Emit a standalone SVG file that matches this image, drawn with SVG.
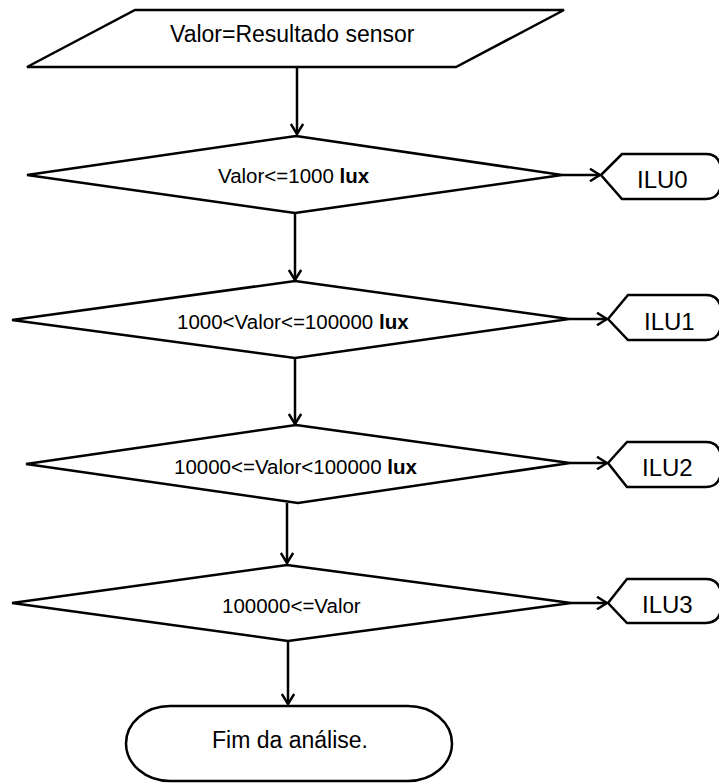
<svg xmlns="http://www.w3.org/2000/svg" width="719" height="783" viewBox="0 0 719 783">
<style>
.shape{fill:#fff;stroke:#000;stroke-width:2.5;stroke-linejoin:miter}
.conn{fill:none;stroke:#000;stroke-width:2.5}
.t{font-family:"Liberation Sans",Arial,sans-serif;fill:#000}
.d{font-size:20.5px}
.ilu{font-size:24px}
</style>
<defs>
<marker id="arr" viewBox="0 0 12 14" refX="11" refY="7" markerWidth="12" markerHeight="14" markerUnits="userSpaceOnUse" orient="auto">
<path d="M1,0.8 L11,7 L1,13.2" fill="none" stroke="#000" stroke-width="2.5"/>
</marker>
</defs>
<rect width="719" height="783" fill="#fff"/>
<g id="connectors">
<line class="conn" x1="297" y1="67" x2="297" y2="134" marker-end="url(#arr)"/>
<line class="conn" x1="295" y1="213" x2="295" y2="280" marker-end="url(#arr)"/>
<line class="conn" x1="295" y1="358" x2="295" y2="424" marker-end="url(#arr)"/>
<line class="conn" x1="287" y1="503" x2="287" y2="563" marker-end="url(#arr)"/>
<line class="conn" x1="288" y1="641" x2="288" y2="704" marker-end="url(#arr)"/>
<line class="conn" x1="562" y1="175" x2="600" y2="175" marker-end="url(#arr)"/>
<line class="conn" x1="569" y1="319" x2="607" y2="319" marker-end="url(#arr)"/>
<line class="conn" x1="570" y1="463" x2="607" y2="463" marker-end="url(#arr)"/>
<line class="conn" x1="571" y1="603" x2="607" y2="603" marker-end="url(#arr)"/>
</g>
<g id="input">
<polygon class="shape" points="135,10 564,10 456,67 27,67"/>
<text class="t" x="170" y="42" font-size="23">Valor=Resultado sensor</text>
</g>
<g id="dec1">
<polygon class="shape" points="296,136 562,175 295,213 27,175"/>
<text class="t d" x="218" y="183">Valor&lt;=1000 <tspan font-weight="bold">lux</tspan></text>
</g>
<g id="dec2">
<polygon class="shape" points="295,281 569,319 295,358 12,320"/>
<text class="t d" x="177" y="329">1000&lt;Valor&lt;=100000 <tspan font-weight="bold">lux</tspan></text>
</g>
<g id="dec3">
<polygon class="shape" points="296,425 570,463 298,503 26,464"/>
<text class="t d" x="174" y="474">10000&lt;=Valor&lt;100000 <tspan font-weight="bold">lux</tspan></text>
</g>
<g id="dec4">
<polygon class="shape" points="287,565 571,603 288,641 12,603"/>
<text class="t d" x="222" y="613">100000&lt;=Valor</text>
</g>
<g id="ilu0">
<path class="shape" d="M601,175 L622,154 L706,154 Q722,154 722,176 Q722,199 706,199 L622,199 Z"/>
<text class="t ilu" x="637" y="188">ILU0</text>
</g>
<g id="ilu1">
<path class="shape" d="M608,319 L628,295 L706,295 Q722,295 722,317 Q722,340 706,340 L628,340 Z"/>
<text class="t ilu" x="644" y="330">ILU1</text>
</g>
<g id="ilu2">
<path class="shape" d="M608,463 L627,442 L706,442 Q722,442 722,464 Q722,487 706,487 L627,487 Z"/>
<text class="t ilu" x="642" y="476">ILU2</text>
</g>
<g id="ilu3">
<path class="shape" d="M608,603 L627,579 L706,579 Q722,579 722,601 Q722,623 706,623 L627,623 Z"/>
<text class="t ilu" x="642" y="613">ILU3</text>
</g>
<g id="end">
<path class="shape" d="M170,706 L408,706 A44,37.5 0 0 1 408,781 L170,781 A44,37.5 0 0 1 170,706 Z"/>
<text class="t" x="212" y="748" font-size="23">Fim da análise.</text>
</g>
</svg>
